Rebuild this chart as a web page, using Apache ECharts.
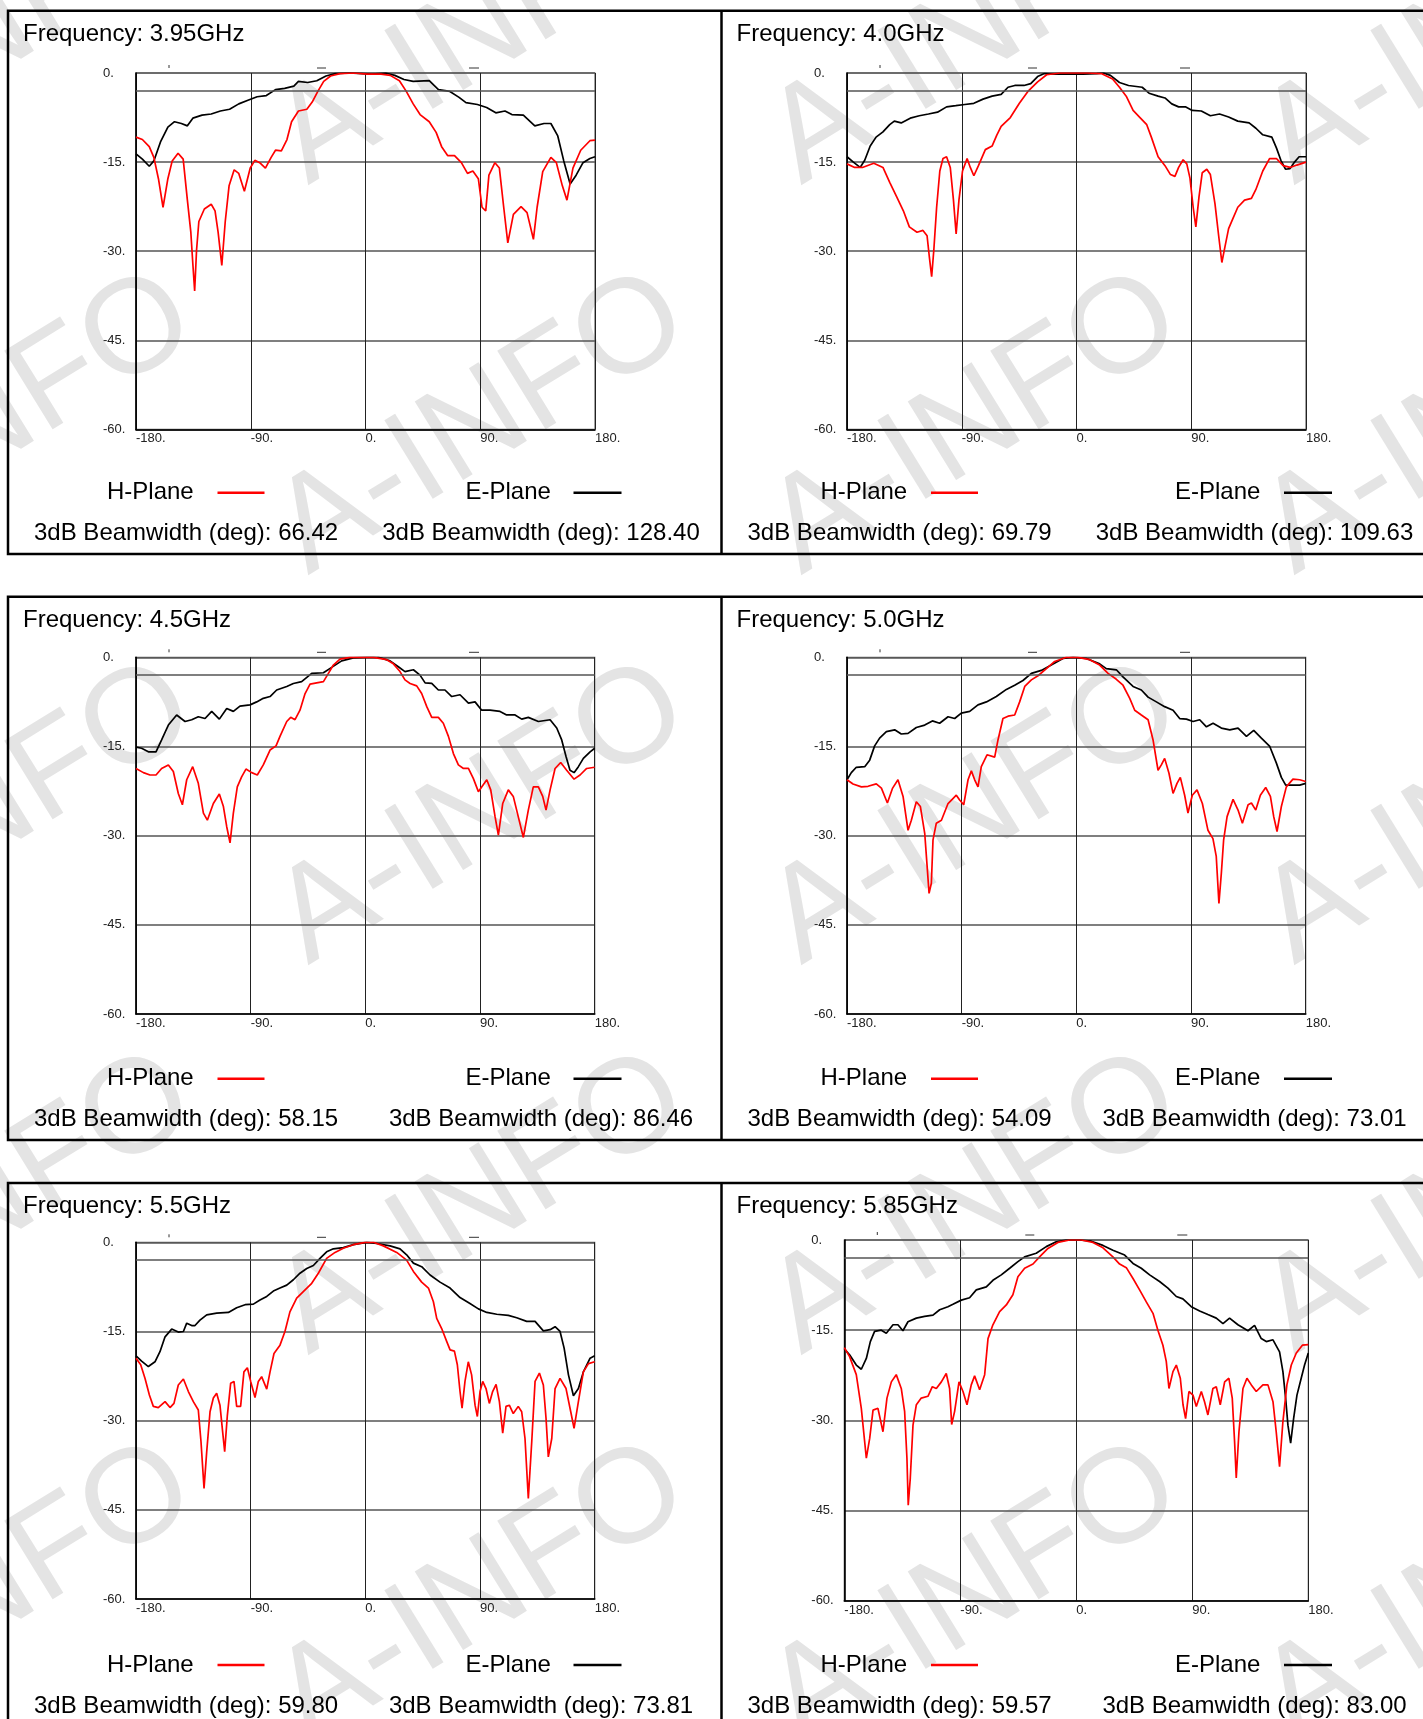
<!DOCTYPE html>
<html><head><meta charset="utf-8">
<script src="https://cdn.jsdelivr.net/npm/echarts@6/dist/echarts.min.js"></script>
<style>html,body{margin:0;padding:0;background:#fff}#c{width:1423px;height:1719px}</style>
</head><body><div id="c"></div>
<script>
// ---------------- DATA ----------------
const frequencies = ['3.95GHz','4.0GHz','4.5GHz','5.0GHz','5.5GHz','5.85GHz'];
const hBeamwidth = ['66.42','69.79','58.15','54.09','59.80','59.57'];
const eBeamwidth = ['128.40','109.63','86.46','73.01','73.81','83.00'];
const xRange = [-180, 180];
const xStep = 90;
const yRange = [-60, 0];
const yStep = 15;
const refLevel = -3;

const hPlane395 = [[-180,-10.8],[-175,-11.2],[-169.6,-12.4],[-166,-14.2],[-162.4,-17.8],[-158.8,-22.6],[-155,-17.8],[-151.6,-14.8],[-147,-13.5],[-143,-14.5],[-139.7,-21.4],[-137,-26.8],[-135.4,-32.2],[-134,-36.7],[-132.5,-29.8],[-130.7,-25],[-126.4,-22.9],[-121,-22.1],[-118,-23.2],[-115.6,-26.8],[-112.7,-32.4],[-110,-25],[-107,-19],[-103,-16.3],[-99.4,-16.9],[-95,-19.9],[-90.4,-16],[-86.8,-14.7],[-83,-15.1],[-78.5,-16],[-74,-14.2],[-70.6,-13],[-66,-13.1],[-61.6,-11.2],[-58,-8.2],[-52.6,-6.4],[-46,-6.1],[-41.8,-4.9],[-37.4,-3.1],[-32.8,-1.4],[-27.4,-0.5],[-20,-0.1],[-9.4,0],[1.4,-0.2],[12.2,-0.2],[19.4,-0.4],[26.6,-1.3],[32,-3.1],[37.4,-5.2],[42.8,-7],[50,-8.2],[55.4,-10],[59.7,-12.4],[64.4,-13.9],[69.8,-13.9],[75.2,-15.1],[80,-16.9],[84.2,-16.5],[88.5,-17.8],[91.4,-22.6],[94.3,-23.2],[96.8,-17.2],[101.5,-15.1],[105,-16],[108.4,-22.6],[111.6,-28.6],[116,-23.8],[122,-22.5],[126.7,-23.5],[131.7,-28],[134.6,-22.6],[139,-16.6],[145.4,-14.2],[149.7,-15.1],[154.4,-19],[158,-21.4],[162.7,-16],[168.8,-13],[176,-11.4],[180,-11.3]];
const ePlane395 = [[-180,-13.6],[-175,-14.5],[-169.6,-15.7],[-166,-14.8],[-160.6,-11.5],[-155,-9.1],[-149.8,-8.2],[-144.4,-8.5],[-139.7,-8.9],[-135.4,-7.6],[-128.2,-7.1],[-121,-6.9],[-113.8,-6.4],[-106.6,-6.1],[-99.4,-5.2],[-92.2,-4.6],[-85,-4],[-77.8,-3.8],[-70.6,-2.8],[-63.4,-2.6],[-56.2,-2.2],[-52.6,-1.4],[-45.4,-1.6],[-38.2,-1.3],[-31,-0.5],[-23.8,-0.1],[-13,0],[-2.2,-0.1],[5,-0.2],[15.8,0],[23,-0.4],[30.2,-1.1],[37.4,-1.4],[50,-1.3],[57.2,-2.8],[66.2,-3.1],[73.4,-4.1],[78.8,-5],[87.8,-5.3],[95,-5.8],[102.2,-6.7],[109.4,-6.4],[114.8,-7],[123.8,-7.1],[132.8,-8.9],[140,-8.5],[145.4,-8.5],[150.8,-10.6],[155.5,-14.8],[160.5,-18.7],[165.2,-17.2],[170.6,-15.1],[176,-14.4],[180,-14.1]];
const hPlane40 = [[-180,-15.3],[-174,-15.9],[-167.9,-15.9],[-159,-15.2],[-151.8,-15.9],[-146.5,-18.4],[-141.1,-20.8],[-135.8,-23.2],[-131.1,-25.9],[-125.1,-26.8],[-120.4,-26.5],[-117.2,-27.4],[-115.4,-31],[-113.6,-34.3],[-111.9,-29.8],[-109.7,-22.6],[-107.2,-16.5],[-104.7,-14.4],[-101.9,-14.1],[-99,-15.9],[-96.5,-21.4],[-94.4,-27.1],[-92.2,-21.4],[-89.4,-16.5],[-85.8,-14.4],[-83.3,-15.9],[-80.5,-17.3],[-76.9,-15.6],[-71.5,-12.9],[-66.2,-12.3],[-62.6,-10.5],[-59.1,-9],[-51.9,-7.5],[-44.8,-5.1],[-37.7,-3],[-30.5,-1.5],[-23.4,-0.3],[-12.7,0],[-2,0],[8.7,0],[19.4,-0.1],[28.3,-1],[33.7,-2.4],[39,-3.9],[44.4,-6.3],[49.8,-7.5],[55.1,-8.7],[58.7,-10.8],[64,-14.1],[69.4,-15.6],[73.7,-17.1],[77.2,-17.4],[80.1,-15.9],[83.6,-14.6],[86.5,-15.3],[89,-17.7],[91.5,-22.6],[93.6,-25.9],[96.1,-20.8],[98.6,-16.8],[102.2,-16.2],[105,-17.1],[108.6,-22],[111.5,-27.4],[114,-31.9],[116.5,-29.2],[119.3,-26.2],[122.9,-24.4],[126.5,-22.6],[131.8,-21.4],[137.2,-21.1],[140.7,-19.6],[146.1,-16.5],[151.4,-14.4],[156.8,-14.4],[162.1,-15.6],[167.5,-15.9],[172.8,-15.5],[180,-15]];
const ePlane40 = [[-180,-14.1],[-175,-15],[-169.7,-15.9],[-166.1,-14.7],[-161.8,-12.3],[-157.2,-10.8],[-151.8,-9.9],[-146.5,-8.7],[-142.9,-8.1],[-137.5,-8.4],[-130.4,-7.6],[-123.3,-7.2],[-116.1,-6.9],[-109,-6.6],[-101.9,-5.7],[-94.7,-5.5],[-87.6,-5.3],[-80.5,-5.1],[-73.3,-4.4],[-66.2,-3.9],[-59.1,-3.6],[-53.7,-2.4],[-48.4,-2.1],[-41.2,-2.1],[-35.9,-1.8],[-30.5,-0.6],[-25.2,-0.1],[-16.2,-0.2],[-5.5,-0.2],[5.2,-0.2],[15.9,-0.1],[21.2,0],[26.6,-0.4],[33.7,-1.6],[40.8,-2.1],[51.5,-2.4],[56.9,-3.4],[64,-3.9],[69.4,-4.2],[74.7,-5.2],[80.1,-5.7],[85.4,-5.7],[90.8,-6.3],[97.9,-6.4],[105,-7.2],[112.2,-6.9],[119.3,-7.4],[126.5,-8.1],[135.4,-8.4],[140.7,-9.3],[146.1,-10.4],[153.2,-10.8],[156.8,-12.6],[160.3,-14.7],[163.9,-16.2],[167.5,-16.1],[171,-15],[174.6,-14.1],[180,-14.1]];
const hPlane45 = [[-180,-18.7],[-174.2,-19.4],[-169,-19.8],[-164.3,-19.8],[-159.9,-18.7],[-154.6,-18.1],[-150.7,-19.2],[-146.8,-22.9],[-143.6,-24.8],[-140.2,-20.6],[-135.5,-18.4],[-131.1,-21.2],[-127.1,-26.2],[-124,-27.4],[-119.3,-24.6],[-114.6,-23],[-111.4,-25.1],[-108.8,-28.5],[-106.2,-31.2],[-103.6,-26.2],[-100.5,-21.8],[-97.1,-20.1],[-93.7,-18.8],[-89.2,-19.4],[-84.8,-19.8],[-80.1,-18.1],[-74.8,-15.6],[-70.1,-14.9],[-67,-13.3],[-61.7,-10.8],[-58.6,-10.1],[-55.2,-10.5],[-51.3,-8.9],[-47.3,-6.1],[-43.4,-4.5],[-38.2,-4.3],[-32.9,-4.1],[-29,-2.7],[-25.1,-1.3],[-19.9,-0.3],[-12,0],[-4.2,0],[6.3,0],[16.8,-0.4],[22,-1.1],[27.2,-2.4],[31.1,-3.8],[35.1,-4.4],[40.3,-4.8],[44.2,-6.1],[48.2,-8.3],[52.1,-10.1],[57.3,-10.1],[61.2,-11.1],[65.2,-13.3],[69.1,-16.2],[73,-18.1],[77,-18.7],[80.9,-18.7],[84.8,-20.4],[88.7,-22.6],[91.3,-21.8],[95.3,-20.6],[98.4,-22.3],[101.8,-26.8],[104.4,-29.9],[107.8,-24.6],[112.2,-22.3],[116.1,-23.4],[120,-26.8],[124,-30.3],[127.9,-25.7],[131.8,-21.8],[135.8,-21.8],[139.2,-23.4],[141.8,-25.7],[145,-22.3],[148.9,-18.7],[153.3,-17.7],[158,-19],[163.8,-20.5],[168.5,-19.8],[173.7,-18.7],[180,-18.5]];
const ePlane45 = [[-180,-15.1],[-175.6,-15.3],[-170.3,-15.9],[-164.3,-15.9],[-159.9,-13.9],[-154.6,-11.4],[-148.1,-9.7],[-141.5,-10.8],[-136.3,-10.5],[-131.1,-10],[-125.8,-10.3],[-120.6,-9.1],[-114.6,-10.4],[-108.8,-8.6],[-103.6,-9.1],[-98.4,-8.2],[-90.5,-8],[-85.3,-7.5],[-80.1,-6.9],[-74.8,-6.6],[-69.6,-5.5],[-61.7,-4.9],[-56.5,-4.4],[-50,-4.1],[-42.1,-2.7],[-32.9,-2.6],[-26.4,-1.7],[-18.6,-0.6],[-9.4,-0.1],[1.1,0],[10.2,0],[19.4,-0.6],[25.9,-1.6],[31.1,-2.4],[37.7,-2.1],[42.9,-3],[46.9,-4.3],[52.1,-4.4],[57.3,-5.5],[62.5,-5.5],[67.8,-6.6],[74.3,-6.3],[80.9,-7.7],[86.1,-7.5],[91.3,-8.9],[97.9,-8.9],[105.7,-9.1],[110.9,-9.7],[117.5,-9.7],[122.7,-10.4],[127.9,-10.1],[135.8,-10.8],[145,-10.5],[150.2,-11.9],[154.1,-13.9],[157.5,-16.7],[160.6,-19],[163.8,-19.4],[167.2,-18.4],[171.1,-17],[176.4,-15.9],[180,-15.3]];
const hPlane50 = [[-180,-20.6],[-175.3,-21.3],[-168.7,-21.8],[-163.5,-21.7],[-157,-21.3],[-153,-22],[-148.3,-24.5],[-144.2,-22],[-140,-20.6],[-136,-23.4],[-132.1,-29.1],[-129.5,-27.4],[-125.6,-24.3],[-122.4,-25.1],[-119,-29.6],[-116.9,-35.8],[-115.6,-39.7],[-113.8,-38],[-112.5,-30.7],[-109.9,-27.9],[-105.9,-27.4],[-100.7,-24.6],[-94.2,-23.2],[-91.6,-24],[-88.4,-24.8],[-85,-20.6],[-82.4,-19.1],[-79.8,-20.6],[-77.2,-21.8],[-74.6,-18.4],[-70.1,-16.4],[-64.1,-16.8],[-61.5,-13.9],[-57.6,-10.3],[-53.6,-9.9],[-48.4,-9.7],[-44.5,-7.5],[-40.5,-4.9],[-35.3,-3.8],[-30.1,-3.1],[-23.5,-1.9],[-17,-0.7],[-7.8,0],[1.3,0],[10.5,-0.4],[18.3,-1.3],[24.9,-2.7],[31.4,-3.7],[36.6,-4.7],[41.9,-6.9],[45.8,-8.9],[51,-9.7],[56.3,-10.5],[60.2,-13.9],[64.1,-19],[66.7,-18.1],[69.3,-17],[72.7,-19.5],[75.9,-22.9],[79,-21.2],[81.6,-20.2],[85,-23.2],[87.6,-26.2],[91,-23.2],[94.7,-22.3],[98.9,-24.6],[103.3,-29.1],[107.2,-30.5],[109.8,-33.5],[111.9,-41.4],[113.8,-36.3],[115.6,-30.7],[118.3,-26.8],[123,-23.9],[126.9,-25.7],[130.3,-27.9],[134.8,-24.8],[137.4,-24.5],[140.8,-25.7],[144.4,-23.2],[148.6,-21.9],[152.3,-23.4],[154.9,-26.8],[157.5,-29.3],[160.9,-25.1],[164.8,-21.8],[170,-20.5],[175.3,-20.6],[180,-20.9]];
const ePlane50 = [[-180,-20.6],[-176.6,-19.4],[-172.7,-18.5],[-166.1,-18.4],[-162.2,-17.3],[-158.3,-14.9],[-154.4,-13.6],[-149.1,-12.5],[-142.6,-12.2],[-137.4,-12.9],[-132.1,-12.8],[-125.6,-11.8],[-119,-11.4],[-113,-10.7],[-107.3,-11.1],[-100.7,-10],[-95.5,-10.3],[-90.3,-9.4],[-83.7,-9.1],[-77.2,-8],[-70.6,-7.5],[-62.8,-6.6],[-54.9,-5.4],[-48.4,-4.7],[-41.9,-3.9],[-35.3,-2.7],[-27.5,-2.2],[-19.7,-1.3],[-10.5,-0.2],[-2.6,0],[7.9,-0.2],[18.3,-1.1],[23.5,-1.9],[31.4,-2.1],[36.6,-3.3],[44.5,-4.9],[51,-5.5],[56.3,-6.7],[62.8,-7.5],[69.3,-8.3],[75.9,-8.9],[81.1,-10.3],[86.4,-10.4],[91.6,-10.8],[96.8,-10.5],[102.1,-11.7],[107.3,-11.1],[113.8,-11.9],[120.4,-12.2],[126.9,-11.9],[133.5,-13.3],[139.2,-12.3],[145.2,-13.6],[151.8,-15],[157,-17.8],[160.9,-20.2],[164.3,-21.5],[170,-21.5],[175.3,-21.5],[180,-21.2]];
const hPlane55 = [[-180,-19.5],[-176.3,-20.6],[-172.9,-22.9],[-169.5,-25.7],[-166.4,-27.6],[-162.5,-27.8],[-157.2,-26.8],[-153.3,-27.8],[-150.2,-27.1],[-146.8,-24],[-142.8,-23],[-138.9,-25.1],[-135,-26.8],[-131.1,-28.2],[-129,-33.5],[-126.6,-41.4],[-124.5,-35.2],[-121.9,-28.5],[-119.3,-26.2],[-116.7,-25.4],[-114.1,-27.4],[-112,-31.9],[-110.4,-35.2],[-108.3,-29.1],[-105.7,-23.7],[-103.1,-23.4],[-101,-27.6],[-97.9,-27.6],[-95.3,-21.8],[-92.6,-21.1],[-90,-23.4],[-86.6,-26.1],[-84,-23.4],[-81.4,-22.6],[-77.4,-24.7],[-74.8,-21.8],[-71.7,-18.7],[-67,-17.3],[-63.1,-15],[-59.2,-11.7],[-53.9,-9.4],[-48.7,-8.3],[-42.1,-6.9],[-36.9,-5.2],[-30.4,-2.7],[-23.8,-1.7],[-17.3,-1],[-9.4,-0.4],[-0.3,0],[6.3,0],[14.1,-0.6],[24.6,-1.7],[32.4,-3],[37.7,-4.9],[44.2,-6.7],[49.5,-7.7],[53.4,-10],[56,-12.8],[59.9,-14.5],[63.9,-16.7],[66.5,-18.1],[69.9,-18.3],[72.2,-20.6],[74.3,-25.1],[75.9,-27.9],[78.2,-23.4],[80.8,-20.1],[83.4,-22.3],[86.1,-27.4],[87.9,-29.3],[90,-25.1],[92.1,-23.4],[94.7,-24.6],[97.3,-27.1],[99.9,-25.1],[102.6,-23.9],[105.2,-26.8],[107.8,-32.1],[110.4,-27.6],[113,-27.4],[116.1,-28.8],[120,-27.6],[122.7,-28.5],[125.3,-33],[127.9,-43.1],[130.6,-33.5],[133.2,-23.4],[136.6,-22],[139.7,-24],[141.8,-29.6],[143.6,-36.1],[146.3,-33],[148.9,-24.6],[152.8,-22.9],[157.5,-24.6],[161.2,-28.5],[163.8,-31.3],[167.2,-26.8],[171.1,-21.8],[175.1,-20.4],[180,-20.1]];
const ePlane55 = [[-180,-19.1],[-175.6,-20],[-170.3,-20.9],[-165.1,-20.1],[-161.2,-18.4],[-157.2,-15.9],[-152,-14.6],[-146.8,-15.1],[-142.8,-15],[-140.2,-13.6],[-136.3,-14],[-133.7,-14],[-129.8,-13.1],[-124.5,-12.2],[-116.7,-11.9],[-107.5,-11.8],[-101,-11],[-94.4,-10.5],[-87.9,-10.4],[-82.7,-9.7],[-77.4,-9.1],[-72.2,-8.2],[-67,-7.7],[-61.7,-7.2],[-56.5,-6.3],[-51.3,-5.2],[-46,-4.4],[-40.8,-3.9],[-35.6,-2.7],[-30.4,-1.6],[-25.1,-1.1],[-17.3,-0.9],[-9.4,-0.4],[1.1,0],[8.9,-0.2],[19.4,-0.6],[27.2,-1.1],[32.4,-2.1],[37.7,-3.5],[44.2,-4.1],[50.8,-5.5],[58.6,-6.7],[66.5,-7.7],[74.3,-9.3],[82.1,-10.3],[88.7,-11.2],[95.3,-11.8],[103.1,-12.1],[112.2,-12.3],[118.8,-12.7],[126.6,-13.3],[133.2,-13.3],[139.7,-14.9],[145,-14.7],[148.9,-14.2],[152.8,-15],[156,-17.8],[159.4,-22.3],[163.3,-25.8],[167.2,-24.6],[171.1,-21.8],[176.4,-19.5],[180,-19.1]];
const hPlane585 = [[-180,-17.9],[-175.9,-19.4],[-170.7,-22.4],[-166.8,-28],[-162.9,-36.3],[-160.3,-33],[-157.7,-28.3],[-153.9,-28],[-150,-31.9],[-146.9,-26.3],[-143.5,-23.6],[-139.7,-22.4],[-135.8,-24.7],[-133.2,-28.5],[-131.4,-36.3],[-130.4,-44.1],[-128.8,-39.6],[-126.7,-30.8],[-124.1,-27.4],[-120.3,-26.3],[-115.1,-26],[-111.7,-24.4],[-108.6,-24.7],[-104.7,-23.6],[-100.9,-22.2],[-98.3,-24.7],[-96.7,-30.7],[-94.4,-28.5],[-91,-23.6],[-87.9,-25.2],[-84.8,-27.4],[-81.5,-24.1],[-78.9,-22.6],[-75,-24.9],[-71.1,-22.4],[-68.5,-16.4],[-64.7,-14.1],[-59.5,-11.9],[-54.3,-10.8],[-49.2,-9.1],[-45.3,-6.1],[-40.1,-4.7],[-33.6,-4],[-28.5,-2.8],[-22,-1.4],[-14.3,-0.4],[-5.2,0],[3.9,0],[12.9,-0.4],[20.7,-1.3],[28.4,-2.8],[33.6,-4],[38.8,-4.6],[44,-6.4],[49.1,-8.3],[54.3,-10.3],[59.5,-12.2],[63.3,-15],[67.2,-17.5],[69.8,-20.2],[71.9,-24.7],[75,-21.9],[77.6,-20.8],[80.7,-23],[82.8,-27.4],[84.8,-29.7],[87.4,-25.2],[90.5,-25.8],[93.1,-27.7],[97,-25.2],[99.5,-26.9],[102.1,-29.1],[106,-24.7],[108.6,-24.4],[111.7,-27.4],[115.1,-23.6],[118.4,-23],[121,-26.3],[122.8,-33.5],[124.1,-39.6],[126.2,-31.9],[129.3,-24.7],[132.4,-23],[135.8,-24.1],[139.6,-25.2],[144.8,-24.1],[148.7,-24.1],[152.6,-26.9],[155.1,-31.9],[157.7,-37.7],[160.3,-30.2],[163.4,-24.1],[166.8,-20.8],[170.7,-18.8],[175.4,-17.5],[180,-17.4]];
const ePlane585 = [[-180,-18.1],[-175.9,-19.1],[-170.7,-20.8],[-166.8,-21.5],[-162.9,-19.7],[-159.8,-16.9],[-156.5,-15.2],[-151.3,-15],[-147.4,-15.5],[-142.2,-14.1],[-138.4,-14.1],[-134.5,-15.1],[-130.6,-13.6],[-124.1,-13],[-117.7,-12.7],[-111.2,-12.5],[-106,-11.6],[-99.6,-11.1],[-95.7,-10.7],[-89.2,-10],[-82.8,-9.6],[-77.6,-8.3],[-69.8,-7.8],[-64.7,-6.7],[-58.2,-5.8],[-51.7,-4.7],[-45.3,-3.6],[-40.1,-2.8],[-31.1,-2.2],[-23.3,-1.1],[-15.6,-0.3],[-7.8,0],[2.6,0],[11.6,-0.2],[20.7,-0.9],[28.4,-1.7],[37.5,-2.5],[44,-3.9],[50.4,-4.7],[56.9,-5.8],[64.6,-6.9],[71.1,-8],[77.6,-9.4],[82.7,-9.8],[89.2,-11.1],[95.7,-11.8],[102.1,-12.4],[108.6,-13],[113.8,-13.9],[118.9,-13],[125.4,-14.1],[133.2,-15.1],[138.3,-14.2],[143.5,-16.4],[147.4,-16.9],[152.6,-16.6],[157.7,-18.6],[160.3,-21.9],[162.4,-26.3],[164.2,-30.8],[166.3,-33.8],[168.6,-29.7],[171.2,-25.8],[174.5,-23],[177.1,-20.8],[180,-18.8]];

const hSeries = [hPlane395, hPlane40, hPlane45, hPlane50, hPlane55, hPlane585];
const eSeries = [ePlane395, ePlane40, ePlane45, ePlane50, ePlane55, ePlane585];

// ---------------- LAYOUT ----------------
const plotRects = [
  [136, 73, 459, 356.4],
  [847, 73, 459, 356.4],
  [136, 657.3, 458.7, 356.7],
  [847, 657.3, 458.7, 356.7],
  [136, 1242.3, 458.7, 356.7],
  [844.3, 1240, 464, 360.7]
];
const rowTops = [10.7, 596.7, 1183];
const colLefts = [8, 721.5];
const ePlaneTextOffset = [457.5, 453.5];
const eLineOffset = [565.5, 562.5];
const FONT = '"Liberation Sans", Arial, sans-serif';

const chart = echarts.init(document.getElementById('c'), null, {renderer: 'canvas'});
const grids = [], xAxes = [], yAxes = [], series = [], graphics = [];

// watermark
for (let j = -1; j <= 3; j++) {
  for (let k = -1; k <= 2; k++) {
    graphics.push({
      type: 'text', x: 482 + 493 * k, y: 425 + 390 * j, rotation: 0.552, z: -10, silent: true,
      style: {text: 'A-INFO', fontSize: 134, fontFamily: FONT, fill: '#e4e4e4',
              textAlign: 'center', textVerticalAlign: 'middle'}
    });
  }
}

// panel frames
rowTops.forEach(t => {
  graphics.push({type: 'rect', z: 50, silent: true,
    shape: {x: colLefts[0], y: t, width: 1460, height: 543.3},
    style: {fill: 'none', stroke: '#000', lineWidth: 2.5}});
  graphics.push({type: 'line', z: 50, silent: true,
    shape: {x1: colLefts[1], y1: t, x2: colLefts[1], y2: t + 543.3},
    style: {stroke: '#000', lineWidth: 2.5}});
});

frequencies.forEach((f, i) => {
  const r = plotRects[i];
  const row = Math.floor(i / 2), col = i % 2;
  const px = colLefts[col], py = rowTops[row];
  grids.push({left: r[0], top: r[1], width: r[2], height: r[3], show: true,
    borderColor: '#666', borderWidth: 1.2, backgroundColor: 'transparent'});
  xAxes.push({type: 'value', gridIndex: i, min: xRange[0], max: xRange[1], interval: xStep,
    axisLine: {onZero: false, lineStyle: {color: '#000', width: 1.6}},
    axisTick: {show: false},
    splitLine: {show: true, lineStyle: {color: '#222', width: 1}},
    axisLabel: {formatter: v => v + '.', align: 'left', margin: 3, fontSize: 13,
      fontFamily: FONT, color: '#222', showMinLabel: true, showMaxLabel: true}
  });
  yAxes.push({type: 'value', gridIndex: i, min: yRange[0], max: yRange[1], interval: yStep,
    axisLine: {onZero: false, lineStyle: {color: '#000', width: 1.6}},
    axisTick: {show: false},
    splitLine: {show: true, lineStyle: {color: '#555', width: 1.5}},
    axisLabel: {formatter: v => v + '.', align: 'left', margin: 33, fontSize: 13,
      fontFamily: FONT, color: '#222', padding: [7, 0, 0, 0]}
  });
  series.push({type: 'line', name: 'E-Plane', xAxisIndex: i, yAxisIndex: i, data: eSeries[i],
    showSymbol: false, symbol: 'none', z: 2,
    lineStyle: {color: '#000', width: 1.7}, itemStyle: {color: '#000'},
    markLine: {silent: true, symbol: ['none', 'none'], label: {show: false},
      lineStyle: {color: '#555', width: 1.5, type: 'solid'}, data: [{yAxis: refLevel}]}
  });
  series.push({type: 'line', name: 'H-Plane', xAxisIndex: i, yAxisIndex: i, data: hSeries[i],
    showSymbol: false, symbol: 'none', z: 3,
    lineStyle: {color: '#ff0000', width: 1.7}, itemStyle: {color: '#ff0000'}});

  // small marks above plot
  graphics.push({type: 'line', silent: true, shape: {x1: r[0] + 33, y1: r[1] - 8, x2: r[0] + 33, y2: r[1] - 5}, style: {stroke: '#333', lineWidth: 1}});
  graphics.push({type: 'line', silent: true, shape: {x1: r[0] + 181, y1: r[1] - 5, x2: r[0] + 190, y2: r[1] - 5}, style: {stroke: '#333', lineWidth: 1}});
  graphics.push({type: 'line', silent: true, shape: {x1: r[0] + 333, y1: r[1] - 5, x2: r[0] + 343, y2: r[1] - 5}, style: {stroke: '#333', lineWidth: 1}});

  const txt = (text, x, y, align) => graphics.push({type: 'text', x: x, y: y, z: 20, silent: true,
    style: {text: text, fontSize: 24, fontFamily: FONT, fill: '#000', textAlign: align, textVerticalAlign: 'middle'}});
  txt('Frequency: ' + f, px + 15, py + 23.5, 'left');
  txt('H-Plane', px + 99, py + 482, 'left');
  txt('E-Plane', px + ePlaneTextOffset[col], py + 482, 'left');
  txt('3dB Beamwidth (deg): ' + hBeamwidth[i], px + 26, py + 523, 'left');
  txt('3dB Beamwidth (deg): ' + eBeamwidth[i], px + 533, py + 523, 'center');
  graphics.push({type: 'line', z: 20, silent: true, shape: {x1: px + 209.5, y1: py + 482, x2: px + 256.5, y2: py + 482}, style: {stroke: '#ff0000', lineWidth: 2.5}});
  graphics.push({type: 'line', z: 20, silent: true, shape: {x1: px + eLineOffset[col], y1: py + 482, x2: px + eLineOffset[col] + 48, y2: py + 482}, style: {stroke: '#000', lineWidth: 2.5}});
});

chart.setOption({
  animation: false,
  backgroundColor: '#fff',
  grid: grids,
  xAxis: xAxes,
  yAxis: yAxes,
  series: series,
  graphic: {elements: graphics}
});
</script>
</body></html>
